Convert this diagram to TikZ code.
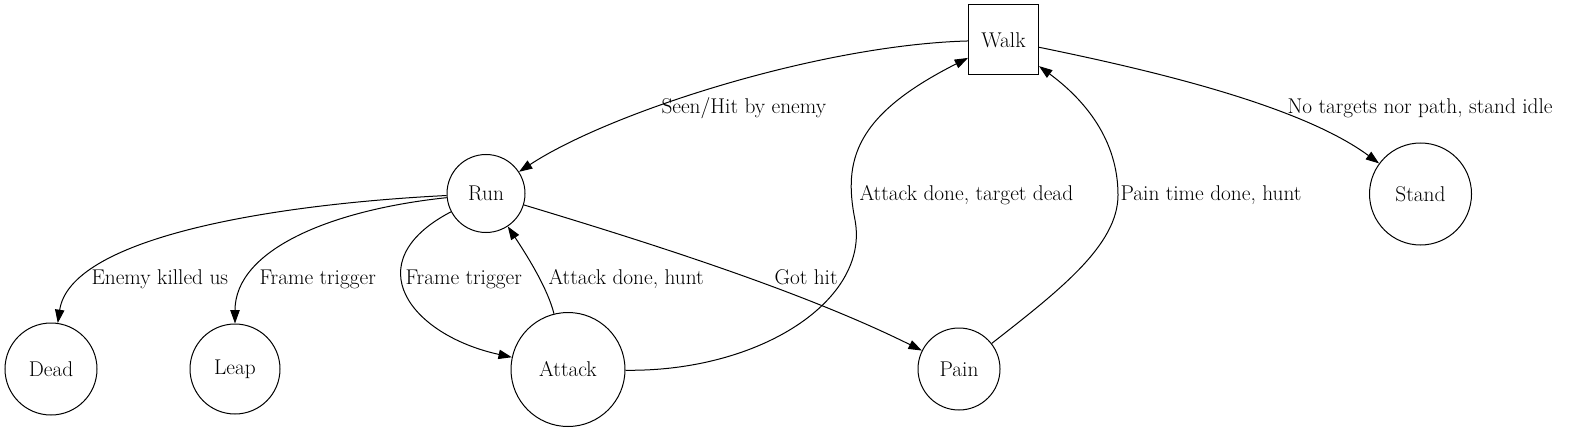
\documentclass[tikz,border=0pt]{standalone}
\usepackage{fontspec}
\usetikzlibrary{arrows.meta}

\begin{document}
\begin{tikzpicture}[x=0.75pt, y=-0.75pt, line width=0.75pt,
  every node/.style={font=\fontsize{16}{19}\selectfont},
  state/.style={draw, circle, inner sep=0pt},
  trans/.style={-{Triangle[length=10pt,width=7pt]}},
  lbl/.style={anchor=base west, inner sep=0pt}]
  \useasboundingbox (0,0) rectangle (1590,431);

  \node[draw, minimum size=52.5pt, inner sep=0pt] (walk) at (1003.5,40) {Walk};
  \node[state, minimum size=58.5pt] (run) at (486,193.5) {Run};
  \node[state, minimum size=76.5pt] (stand) at (1420.5,194) {Stand};
  \node[state, minimum size=69pt] (dead) at (51,369) {Dead};
  \node[state, minimum size=67.5pt] (leap) at (235,369) {Leap};
  \node[state, minimum size=85.5pt] (attack) at (568,369.5) {Attack};
  \node[state, minimum size=61.5pt] (pain) at (959,369) {Pain};

  \coordinate (bendA) at (855,220);
  \coordinate (bendP) at (1118,195);

  \draw[trans] (walk) .. controls (820,45) and (610,112) .. (run);
  \draw[trans] (walk) .. controls (1150,70) and (1300,105) .. (stand);
  \draw[trans] (run) .. controls (260,205) and (70,240) .. (dead);
  \draw[trans] (run) .. controls (330,210) and (235,250) .. (leap);
  \draw[trans] (run) .. controls (355,262) and (410,335) .. (attack);
  \draw[trans] (attack) .. controls (548,290) and (530,260) .. (run);
  \draw[trans] (run) .. controls (640,240) and (800,290) .. (pain);
  \draw[trans] (attack) .. controls (760,372) and (870,300) .. (bendA)
    .. controls (843,160) and (855,115) .. (walk);
  \draw[trans] (pain) .. controls (1060,290) and (1118,245) .. (bendP)
    .. controls (1118,140) and (1085,100) .. (walk);

  \node[lbl] (l-seen) at (661,114) {Seen/Hit by enemy};
  \node[lbl] (l-idle) at (1287,114) {No targets nor path, stand idle};
  \node[lbl] (l-dead) at (91,284) {Enemy killed us};
  \node[lbl] (l-leap) at (259,284) {Frame trigger};
  \node[lbl] (l-attack) at (405,284) {Frame trigger};
  \node[lbl] (l-hunt) at (548,284) {Attack done, hunt};
  \node[lbl] (l-hit) at (774,284) {Got hit};
  \node[lbl] (l-target) at (859,200) {Attack done, target dead};
  \node[lbl] (l-pain) at (1120,200) {Pain time done, hunt};
\end{tikzpicture}
\end{document}
